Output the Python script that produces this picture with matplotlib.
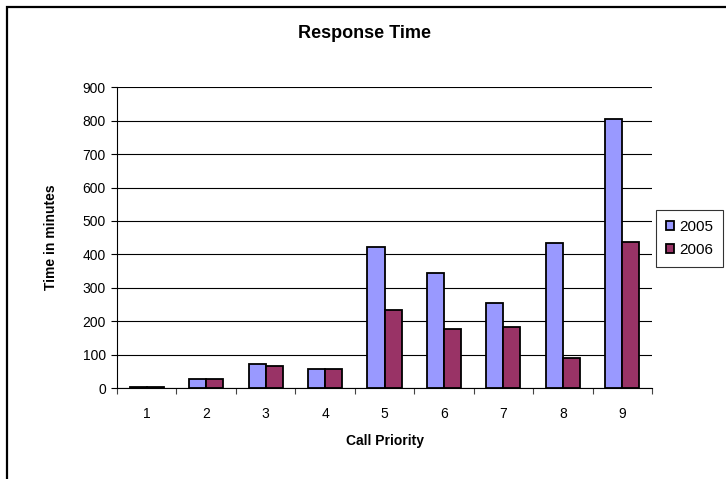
import matplotlib
matplotlib.use("Agg")
import matplotlib.pyplot as plt
import numpy as np
from matplotlib.patches import Rectangle

plt.rcParams['font.family'] = ['Liberation Sans', 'DejaVu Sans']

categories = ['1', '2', '3', '4', '5', '6', '7', '8', '9']
values_2005 = [4, 27, 71, 57, 423, 345, 254, 435, 805]
values_2006 = [4, 27, 67, 57, 233, 177, 184, 90, 438]
series_names = ['2005', '2006']
color_2005 = '#9999FF'
color_2006 = '#993366'

W, H = 726, 479
fig = plt.figure(figsize=(W / 100, H / 100), dpi=100)

# outer chart border
fig.patches.append(Rectangle((7 / W, -0.05), 1.2, (H - 7) / H + 0.05, transform=fig.transFigure,
                             fill=False, edgecolor='black', linewidth=1.6))

ax = fig.add_axes([117 / W, (H - 388) / H, (652 - 117) / W, (388 - 87.3) / H])
x = np.arange(len(categories))
bw = 0.287
ax.bar(x - bw / 2, values_2005, bw, color=color_2005, edgecolor='black', linewidth=1.3,
       label=series_names[0], zorder=3)
ax.bar(x + bw / 2, values_2006, bw, color=color_2006, edgecolor='black', linewidth=1.3,
       label=series_names[1], zorder=3)

ax.set_xlim(-0.5, len(categories) - 0.5)
ax.set_ylim(0, 900)
ax.set_yticks(np.arange(0, 901, 100))
ax.set_xticks(x)
ax.set_xticklabels(categories)
ax.set_xticks(np.arange(-0.5, len(categories), 1), minor=True)
ax.tick_params(axis='x', which='major', length=0, pad=14, labelsize=10)
ax.tick_params(axis='x', which='minor', length=4, width=0.8, color='#444444')
ax.tick_params(axis='y', length=4, width=0.8, labelsize=10, pad=4)
ax.yaxis.grid(True, color='black', linewidth=0.8, zorder=0)
ax.set_axisbelow(True)
for s in ['top', 'right']:
    ax.spines[s].set_visible(False)
ax.spines['left'].set_linewidth(0.8)
ax.spines['bottom'].set_linewidth(0.8)

ax.set_xlabel('Call Priority', fontsize=10, fontweight='bold', labelpad=9)
ax.set_ylabel('Time in minutes', fontsize=10, fontweight='bold', labelpad=18)
fig.text(364.5 / W, 1 - 33 / H, 'Response Time', ha='center', va='center', fontsize=13, fontweight='bold')

leg = fig.legend(loc='center left', bbox_to_anchor=(656 / W, 1 - 238.5 / H), fontsize=11,
                 frameon=True, fancybox=False, edgecolor='black', handlelength=0.55, handleheight=0.55,
                 handletextpad=0.3, borderpad=0.65, labelspacing=0.6, borderaxespad=0)
leg.get_frame().set_linewidth(0.8)

fig.savefig('out.png', dpi=100)
